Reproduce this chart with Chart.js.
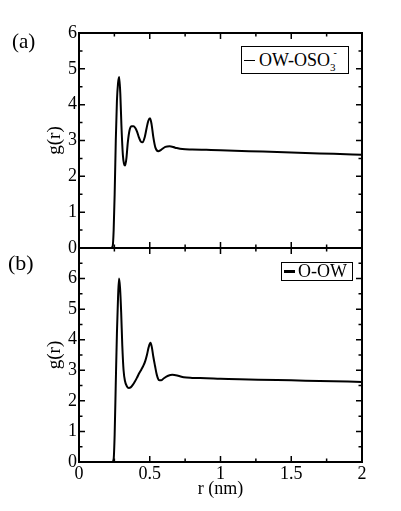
<!DOCTYPE html>
<html>
<head>
<meta charset="utf-8">
<script src="https://cdn.jsdelivr.net/npm/chart.js@4.4.1/dist/chart.umd.min.js"></script>
<style>
  body { margin: 0; background: #fff; }
  #wrap { position: relative; width: 401px; height: 511px; overflow: hidden; font-family: "Liberation Serif", "Times New Roman", serif; color: #000; }
  canvas { position: absolute; left: 0; top: 0; }
  .panel { position: absolute; font-size: 21px; line-height: 1; }
  .leg { position: absolute; box-sizing: border-box; border: 1.5px solid #000; background: #fff;
         display: flex; align-items: center; font-size: 18px; white-space: nowrap; }
  .seg { display: inline-block; width: 11px; height: 0; border-top: 1.5px solid #000; margin: 0 4px 0 2px; }
  .leg sub { font-size: 11px; vertical-align: -5px; }
  .leg sup { font-size: 10px; vertical-align: 10px; margin-left: -2px; }
</style>
</head>
<body>
<div id="wrap">
  <canvas id="chartA" width="401" height="511"></canvas>
  <canvas id="chartB" width="401" height="511"></canvas>
  <div class="panel" style="left:12px;top:31px;">(a)</div>
  <div class="panel" style="left:8px;top:252px;font-size:22px;">(b)</div>
  <div class="leg" style="left:241px;top:46px;width:108px;height:28px;">
    <span class="seg"></span><span>OW-OSO<sub>3</sub><sup>-</sup></span>
  </div>
  <div class="leg" style="left:281px;top:262px;width:72px;height:19px;">
    <span class="seg" style="border-top-width:3px;margin-right:3px;"></span><span>O-OW</span>
  </div>
</div>
<script>
// (a) OW-OSO3- rdf
const rA = [0, 0.225, 0.238, 0.245, 0.252, 0.26, 0.268, 0.276, 0.284, 0.292, 0.3, 0.31, 0.318, 0.326, 0.335, 0.345, 0.358, 0.372, 0.385, 0.398, 0.41, 0.422, 0.435, 0.45, 0.465, 0.478, 0.49, 0.502, 0.513, 0.525, 0.54, 0.56, 0.58, 0.61, 0.64, 0.68, 0.73, 0.8, 0.9, 1.0, 1.2, 1.4, 1.6, 1.8, 2.0];
const gA = [0, 0, 0.05, 0.5, 1.5, 3.0, 4.1, 4.6, 4.77, 4.3, 3.4, 2.6, 2.35, 2.3, 2.5, 2.95, 3.3, 3.4, 3.4, 3.35, 3.25, 3.1, 2.98, 2.95, 3.1, 3.35, 3.55, 3.62, 3.45, 3.1, 2.8, 2.7, 2.74, 2.82, 2.84, 2.8, 2.76, 2.75, 2.74, 2.73, 2.7, 2.68, 2.65, 2.63, 2.6];

// (b) O-OW rdf
const rB = [0, 0.235, 0.245, 0.252, 0.26, 0.268, 0.276, 0.283, 0.29, 0.298, 0.306, 0.315, 0.325, 0.338, 0.352, 0.365, 0.38, 0.395, 0.41, 0.425, 0.44, 0.455, 0.468, 0.48, 0.492, 0.505, 0.515, 0.525, 0.537, 0.55, 0.565, 0.58, 0.6, 0.63, 0.66, 0.7, 0.74, 0.8, 0.9, 1.0, 1.2, 1.4, 1.6, 1.8, 2.0];
const gB = [0, 0, 0.1, 0.9, 2.6, 4.2, 5.4, 6.0, 5.7, 4.9, 3.8, 3.0, 2.65, 2.48, 2.42, 2.44, 2.52, 2.63, 2.76, 2.9, 3.02, 3.15, 3.3, 3.5, 3.75, 3.9, 3.75, 3.45, 3.15, 2.85, 2.68, 2.67, 2.74, 2.82, 2.85, 2.82, 2.77, 2.75, 2.74, 2.72, 2.7, 2.68, 2.66, 2.64, 2.62];

const xTitle = 'r (nm)';
const yTitle = 'g(r)';

// frame with inward major/minor ticks on all four sides
const framePlugin = {
  id: 'frame',
  afterDraw(chart) {
    const ctx = chart.ctx;
    const a = chart.chartArea;
    const xs = chart.scales.x, ys = chart.scales.y;
    ctx.save();
    ctx.strokeStyle = '#000';
    ctx.lineWidth = 2;
    ctx.strokeRect(a.left, a.top, a.right - a.left, a.bottom - a.top);
    ctx.lineWidth = 1.5;
    ctx.beginPath();
    for (let v = 0; v <= 2.0001; v += 0.25) {
      const px = xs.getPixelForValue(v);
      const len = Math.abs(v / 0.5 - Math.round(v / 0.5)) < 1e-6 ? 6 : 3.5;
      ctx.moveTo(px, a.bottom); ctx.lineTo(px, a.bottom - len);
      ctx.moveTo(px, a.top); ctx.lineTo(px, a.top + len);
    }
    for (let v = 0; v <= ys.max + 0.0001; v += 0.5) {
      const py = ys.getPixelForValue(v);
      const len = Math.abs(v - Math.round(v)) < 1e-6 ? 6 : 3.5;
      ctx.moveTo(a.left, py); ctx.lineTo(a.left + len, py);
      ctx.moveTo(a.right, py); ctx.lineTo(a.right - len, py);
    }
    ctx.stroke();
    ctx.restore();
  }
};

function makeChart(id, rs, gs, yMax, showX, padding) {
  const points = rs.map((r, i) => ({ x: r, y: gs[i] }));
  return new Chart(document.getElementById(id), {
    type: 'line',
    data: {
      datasets: [{
        data: points,
        borderColor: '#000',
        borderWidth: 2,
        pointRadius: 0,
        cubicInterpolationMode: 'monotone',
        fill: false
      }]
    },
    options: {
      responsive: false,
      animation: false,
      devicePixelRatio: 1,
      layout: { padding: padding },
      plugins: { legend: { display: false }, tooltip: { enabled: false } },
      scales: {
        x: {
          type: 'linear', min: 0, max: 2,
          display: showX,
          grid: { display: false, drawTicks: false },
          border: { display: false },
          ticks: {
            stepSize: 0.5, padding: 1, color: '#000',
            font: { family: 'Liberation Serif', size: 18 },
            maxRotation: 0,
            callback: v => String(v)
          },
          title: {
            display: true, text: xTitle, color: '#000',
            font: { family: 'Liberation Serif', size: 18, lineHeight: 1.2 },
            padding: { top: 0, bottom: 0 }
          },
          afterFit: s => { s.height = showX ? 38 : 0; }
        },
        y: {
          min: 0, max: yMax,
          grid: { display: false, drawTicks: false },
          border: { display: false },
          ticks: {
            stepSize: 1, padding: 2, color: '#000',
            font: { family: 'Liberation Serif', size: 18 },
            callback: v => (v > 6 ? '' : String(v))
          },
          title: {
            display: true, text: yTitle, color: '#000',
            font: { family: 'Liberation Serif', size: 19, lineHeight: 1.2 },
            padding: { top: 5, bottom: 0 }
          },
          afterFit: s => { s.width = 40; }
        }
      }
    },
    plugins: [framePlugin]
  });
}

makeChart('chartA', rA, gA, 6, false, { left: 39, right: 39, top: 33, bottom: 263 });
makeChart('chartB', rB, gB, 7, true, { left: 39, right: 39, top: 248, bottom: 11 });
</script>
</body>
</html>
